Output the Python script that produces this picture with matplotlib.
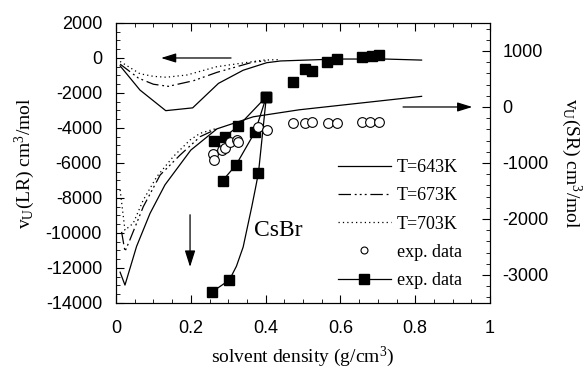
import matplotlib
matplotlib.use("Agg")
import matplotlib.pyplot as plt
from matplotlib.ticker import MultipleLocator
from matplotlib.lines import Line2D

# ---- data ----
# long-range part, left axis
lr643_x = [0.011, 0.064, 0.133, 0.205, 0.274, 0.34, 0.403, 0.44, 0.59, 0.72, 0.817]
lr643_y = [-450, -1830, -3010, -2850, -1450, -700, -270, -170, -60, -60, -120]
lr673_x = [0.011, 0.06, 0.10, 0.14, 0.207, 0.27, 0.367, 0.40]
lr673_y = [-350, -1150, -1500, -1620, -1300, -820, -230, -170]
lr703_x = [0.011, 0.064, 0.10, 0.135, 0.19, 0.269, 0.394, 0.44]
lr703_y = [-200, -900, -1050, -1100, -970, -500, -120, -90]

# short-range part, right axis
sr643_x = [0.011, 0.024, 0.055, 0.091, 0.131, 0.20, 0.27, 0.367, 0.49, 0.817]
sr643_y = [-2950, -3180, -2490, -1900, -1390, -770, -390, -175, -50, 190]
sr673_x = [0.015, 0.024, 0.037, 0.073, 0.118, 0.171, 0.225, 0.27]
sr673_y = [-2230, -2580, -2375, -1780, -1215, -860, -530, -390]
sr703_x = [0.011, 0.024, 0.046, 0.073, 0.109, 0.153, 0.198, 0.225, 0.27]
sr703_y = [-1480, -2200, -2077, -1660, -1245, -887, -589, -470, -380]

# experimental data, open circles (right axis)
circ_x = [0.259, 0.263, 0.283, 0.291, 0.305, 0.323, 0.327, 0.380, 0.403,
          0.474, 0.504, 0.524, 0.566, 0.591, 0.658, 0.680, 0.703]
circ_y = [-840, -945, -770, -740, -620, -590, -620, -350, -410,
          -290, -285, -270, -280, -280, -270, -270, -270]

# experimental data, filled squares (left axis)
sqA_x = [0.258, 0.303, 0.381, 0.402]
sqA_y = [-13350, -12690, -6550, -2210]
fitA_x = [0.258, 0.303, 0.322, 0.340, 0.363, 0.372, 0.381, 0.402]
fitA_y = [-13350, -12690, -11900, -10800, -8500, -7540, -6550, -2210]
sqB_x = [0.285, 0.321, 0.372, 0.402]
sqB_y = [-7010, -6110, -4210, -2210]
sqC_x = [0.262, 0.291, 0.327, 0.402]
sqC_y = [-4740, -4500, -3890, -2210]
sqD_x = [0.473, 0.505, 0.525, 0.565, 0.590, 0.657, 0.684, 0.704]
sqD_y = [-1350, -650, -740, -250, -75, 40, 110, 170]

labels = ["T=643K", "T=673K", "T=703K", "exp. data", "exp. data"]

serif = ["Liberation Serif", "DejaVu Serif"]
sans = ["Liberation Sans", "DejaVu Sans"]
plt.rcParams['font.family'] = sans
plt.rcParams['axes.unicode_minus'] = False
plt.rcParams['mathtext.fontset'] = 'custom'
plt.rcParams['mathtext.rm'] = 'Liberation Serif'
plt.rcParams['mathtext.it'] = 'Liberation Serif:italic'

fig = plt.figure(figsize=(5.87, 3.69), dpi=100)
ax = fig.add_axes([0.1976, 0.1789, 0.6372, 0.7588])
ax2 = ax.twinx()

lw = 0.9
dd = (10, 3, 1.5, 2.5, 1.5, 2.5, 1.5, 3)
dt = (1, 2.5)

ax.plot(lr643_x, lr643_y, color='black', lw=lw)
ax.plot(lr673_x, lr673_y, color='black', lw=lw, dashes=dd)
ax.plot(lr703_x, lr703_y, color='black', lw=lw, dashes=dt)

ax2.plot(sr643_x, sr643_y, color='black', lw=lw)
ax2.plot(sr673_x, sr673_y, color='black', lw=lw, dashes=dd)
ax2.plot(sr703_x, sr703_y, color='black', lw=lw, dashes=dt)

ax2.plot(circ_x, circ_y, 'o', ms=7, mfc='white', mec='black', mew=0.8)

ax.plot(fitA_x, fitA_y, color='black', lw=lw)
ax.plot(sqA_x, sqA_y, 's', ms=7.5, color='black')
ax.plot(sqB_x, sqB_y, 's-', ms=7.5, color='black', lw=lw)
ax.plot(sqC_x, sqC_y, 's-', ms=7.5, color='black', lw=lw)
ax.plot(sqD_x, sqD_y, 's', ms=7.5, color='black')

ax.set_xlim(0, 1)
ax.set_ylim(-14000, 2000)
ax2.set_ylim(-3500, 1500)

ax.xaxis.set_major_locator(MultipleLocator(0.2))
ax.xaxis.set_minor_locator(MultipleLocator(0.05))
ax.yaxis.set_major_locator(MultipleLocator(2000))
ax.yaxis.set_minor_locator(MultipleLocator(500))
ax2.yaxis.set_major_locator(MultipleLocator(1000))
ax2.yaxis.set_minor_locator(MultipleLocator(200))
ax.set_xticks([0, 0.2, 0.4, 0.6, 0.8, 1.0])
ax.set_xticklabels(["0", "0.2", "0.4", "0.6", "0.8", "1"])

ax.tick_params(axis='x', which='both', direction='in', top=True, labelsize=13, pad=12)
ax.tick_params(axis='y', which='both', direction='in', labelsize=13, pad=10)
ax2.tick_params(axis='y', which='both', direction='in', labelsize=13, pad=9)
for a in (ax, ax2):
    a.tick_params(which='major', length=6, width=0.8)
    a.tick_params(which='minor', length=3, width=0.6)

ax.set_xlabel("solvent density (g/cm$^3$)", fontfamily=serif, fontsize=14)
ax.xaxis.set_label_coords(0.5, -0.15)
ax.set_ylabel("v$_\\mathrm{U}$(LR) cm$^3$/mol", fontfamily=serif, fontsize=14)
ax.yaxis.set_label_coords(-0.211, 0.5)
ax2.set_ylabel("v$_\\mathrm{U}$(SR) cm$^3$/mol", fontfamily=serif, fontsize=14,
               rotation=270, va='bottom')
ax2.yaxis.set_label_coords(1.184, 0.5)

# arrows
ax.annotate("", xy=(0.113, 0), xytext=(0.315, 0),
            arrowprops=dict(arrowstyle='-|>,head_length=0.9,head_width=0.28', color='black', lw=0.9))
ax2.annotate("", xy=(0.96, 0), xytext=(0.76, 0),
             arrowprops=dict(arrowstyle='-|>,head_length=0.9,head_width=0.28', color='black', lw=0.9))
ax.annotate("", xy=(0.198, -12100), xytext=(0.198, -8800),
            arrowprops=dict(arrowstyle='-|>,head_length=1.0,head_width=0.32', color='black', lw=0.9))

ax.text(0.434, -9830, "CsBr", fontfamily=serif, fontsize=17, ha='center', va='center')

handles = [
    Line2D([], [], color='black', lw=lw),
    Line2D([], [], color='black', lw=lw, dashes=dd),
    Line2D([], [], color='black', lw=lw, dashes=dt),
    Line2D([], [], ls='none', marker='o', ms=5, mfc='white', mec='black', mew=0.8),
    Line2D([], [], color='black', lw=lw, marker='s', ms=7),
]
leg = ax2.legend(handles, labels, loc='lower right', bbox_to_anchor=(0.925, 0.05),
                 frameon=False, handlelength=2.9, handletextpad=0.35, labelspacing=0.62,
                 borderpad=0, borderaxespad=0,
                 prop={'family': serif, 'size': 13})

fig.savefig("out.png", dpi=100)
